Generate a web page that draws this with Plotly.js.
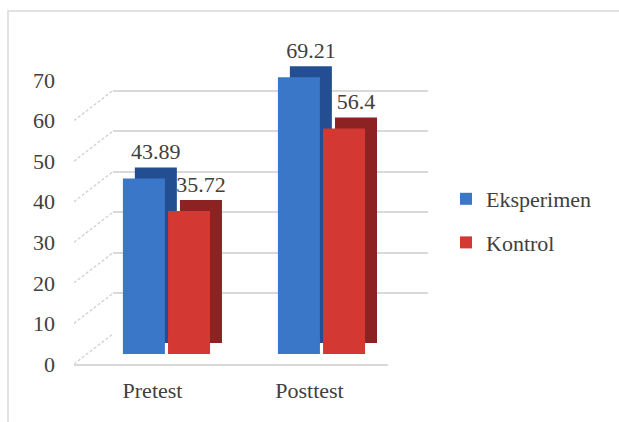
<!DOCTYPE html>
<html>
<head>
<meta charset="utf-8">
<script src="https://cdn.plot.ly/plotly-3.0.1.min.js"></script>
<style>
  html, body { margin: 0; padding: 0; background: #ffffff; }
  #chart { width: 619px; height: 422px; }
</style>
</head>
<body>
<div id="chart"></div>
<script>
// ---- data ----
const categories = ['Pretest', 'Posttest'];
const seriesNames = ['Eksperimen', 'Kontrol'];
const eksperimen = [43.89, 69.21];
const kontrol = [35.72, 56.4];
const yTicks = [0, 10, 20, 30, 40, 50, 60, 70];

// ---- layout helpers (pixels -> paper fractions) ----
const W = 619, H = 422;
const px = v => v / W;
const py = v => (H - v) / H;

const TEXT = '#404040';
const GRID = '#d9d9d9';
const FONT = 'Liberation Serif';

const blueFront = '#3a77c8', blueSide = '#234f92';
const redFront = '#d33833', redSide = '#8c2222';

// bar geometry (category units)
const barW = 0.271, gap = 0.010;
const depthX = 0.077;   // side-face shift to the right
const depthY = 2.75;    // side-face shift upward (value units)

function fmt(v) { return String(v); }

const traces = [];

// dummy trace so the back-wall subplot exists
traces.push({
  type: 'scatter', x: [0], y: [0], xaxis: 'x', yaxis: 'y',
  mode: 'markers', marker: { opacity: 0 }, hoverinfo: 'skip', showlegend: false
});

function addSeries(name, values, front, side, offset, group) {
  traces.push({
    type: 'bar', name: name + ' side', x: categories, y: values,
    base: values.map(() => depthY),
    offset: offset + depthX, width: barW,
    xaxis: 'x2', yaxis: 'y2',
    marker: { color: side },
    text: values.map(fmt), textposition: 'outside', constraintext: 'none',
    textfont: { family: FONT, size: 22, color: TEXT },
    cliponaxis: false, showlegend: false, hoverinfo: 'skip'
  });
  traces.push({
    type: 'bar', name: name, x: categories, y: values,
    offset: offset, width: barW,
    xaxis: 'x2', yaxis: 'y2',
    marker: { color: front, line: { width: 0 } },
    legendgroup: group, hoverinfo: 'y'
  });
}
addSeries(seriesNames[0], eksperimen, blueFront, blueSide, -gap - barW, 'a');
addSeries(seriesNames[1], kontrol, redFront, redSide, gap, 'b');

// perspective (left wall) lines: front tick -> back-wall gridline
const frontLeftX = -0.5;
const backLeftX = (113 - 152.5) / 156.5;
const backShift = (364 - 334) / ((364 - 80) / 70);
const dx = [], dy = [];
yTicks.forEach(v => { dx.push(frontLeftX, backLeftX, null); dy.push(v, v + backShift, null); });
traces.push({
  type: 'scatter', x: dx, y: dy, xaxis: 'x3', yaxis: 'y3', mode: 'lines',
  line: { color: '#d0d0d0', width: 1.3, dash: '3px,2px' },
  hoverinfo: 'skip', showlegend: false, cliponaxis: false
});

const layout = {
  width: W, height: H,
  margin: { l: 0, r: 0, t: 0, b: 0 },
  paper_bgcolor: '#ffffff',
  plot_bgcolor: 'rgba(0,0,0,0)',
  barmode: 'overlay',
  showlegend: true,
  font: { family: FONT, color: TEXT, size: 22 },
  // back wall (gridlines)
  xaxis: { domain: [px(113), px(428)], range: [0, 1], visible: false, fixedrange: true },
  yaxis: {
    domain: [py(334), py(50)], range: [0, 70], dtick: 10, tick0: 0,
    showgrid: true, gridcolor: GRID, gridwidth: 2, zeroline: false,
    showline: false, showticklabels: false, ticks: '', fixedrange: true
  },
  // bars
  xaxis2: {
    domain: [px(75), px(428)], range: [-0.590, 1.687], type: 'category',
    anchor: 'y2', visible: false, fixedrange: true
  },
  yaxis2: {
    domain: [py(354), py(42)], range: [0, 78], anchor: 'x2',
    visible: false, fixedrange: true
  },
  // front axes (labels, floor edge)
  xaxis3: {
    domain: [px(74), px(388)], range: [-0.5, 1.5], anchor: 'y3',
    tickmode: 'array', tickvals: [0, 1], ticktext: categories,
    showgrid: false, zeroline: false, showline: true, linecolor: GRID, linewidth: 2,
    ticks: '', ticklabelstandoff: 6,
    tickfont: { family: FONT, size: 22, color: TEXT }, fixedrange: true
  },
  yaxis3: {
    domain: [py(364), py(80)], range: [0, 70], anchor: 'free', position: px(55),
    tickmode: 'array', tickvals: yTicks, ticktext: yTicks.map(String),
    showgrid: false, zeroline: false, showline: false, ticks: '',
    tickfont: { family: FONT, size: 22, color: TEXT }, fixedrange: true
  },
  legend: {
    x: px(446), xanchor: 'left', y: py(178), yanchor: 'top',
    bgcolor: 'rgba(0,0,0,0)', borderwidth: 0,
    font: { family: FONT, size: 22, color: TEXT },
    tracegroupgap: 12, itemwidth: 30
  },
  shapes: [{
    type: 'rect', xref: 'paper', yref: 'paper',
    x0: px(8), x1: 1.02, y0: -0.02, y1: py(11),
    line: { color: GRID, width: 1.5 }, fillcolor: 'rgba(0,0,0,0)', layer: 'below'
  }]
};

Plotly.newPlot('chart', traces, layout, { displayModeBar: false, staticPlot: true });
</script>
</body>
</html>
